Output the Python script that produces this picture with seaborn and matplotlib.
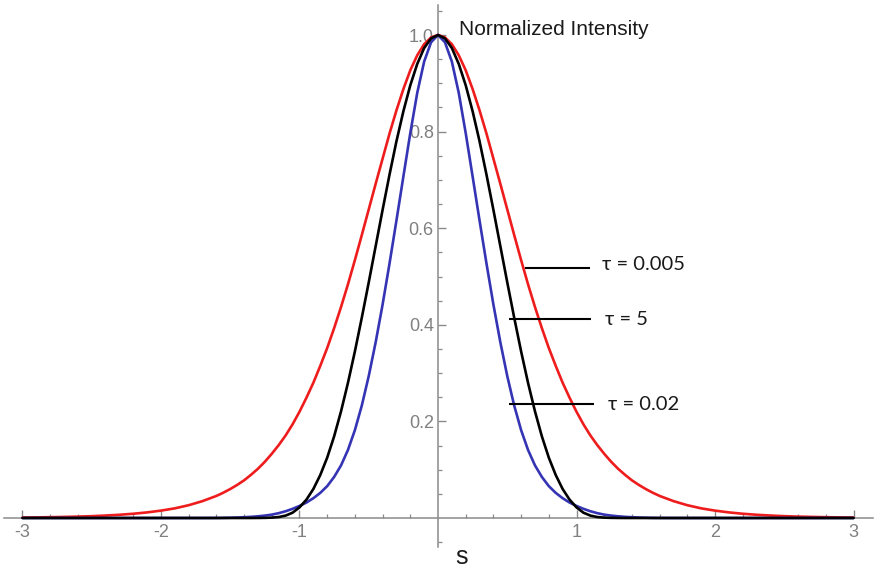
import matplotlib
matplotlib.use("Agg")
import matplotlib.pyplot as plt
import seaborn as sns
import pandas as pd
from matplotlib.ticker import FixedLocator

# ---- data (right half; curves are symmetric about s = 0) ----
s_half = [0.00, 0.05, 0.10, 0.15, 0.20, 0.25, 0.30, 0.35, 0.40, 0.45, 0.50, 0.55,
          0.60, 0.65, 0.70, 0.75, 0.80, 0.85, 0.90, 0.95, 1.00, 1.05, 1.10, 1.15, 1.20,
          1.25, 1.30, 1.35, 1.40, 1.45, 1.50, 1.55, 1.60,
          1.7, 1.8, 1.9, 2.0, 2.1, 2.2, 2.3, 2.4, 2.5, 2.6, 2.7, 2.8, 2.9, 3.0]

red_half = [1.000, 0.995, 0.981, 0.958, 0.927, 0.888, 0.844, 0.796, 0.744, 0.692, 0.639,
            0.586, 0.534, 0.484, 0.437, 0.393, 0.352, 0.315, 0.280, 0.249, 0.220, 0.194,
            0.171, 0.151, 0.133,
            0.1165, 0.102, 0.0895, 0.078, 0.0685, 0.060, 0.0524, 0.0457,
            0.035, 0.0265, 0.020, 0.0153, 0.0116, 0.0088, 0.0067, 0.0051, 0.0038, 0.0029,
            0.0022, 0.0017, 0.0013, 0.0010]

black_half = [1.000, 0.993, 0.973, 0.940, 0.896, 0.842, 0.780, 0.711, 0.638, 0.563, 0.488,
              0.415, 0.345, 0.280, 0.221, 0.169, 0.125, 0.089, 0.060, 0.038, 0.022, 0.011,
              0.005, 0.002, 0.0008,
              0.0003, 0.0001, 0.0, 0.0, 0.0, 0.0, 0.0, 0.0,
              0.0, 0.0, 0.0, 0.0, 0.0, 0.0, 0.0, 0.0, 0.0, 0.0, 0.0, 0.0, 0.0, 0.0]

blue_half = [1.000, 0.985, 0.945, 0.880, 0.797, 0.707, 0.616, 0.527, 0.442, 0.364, 0.294,
             0.233, 0.182, 0.141, 0.109, 0.085, 0.066, 0.052, 0.041, 0.032, 0.025, 0.019,
             0.014, 0.010, 0.007,
             0.005, 0.0035, 0.0024, 0.0016, 0.0010, 0.0006, 0.0003, 0.0001,
             0.0, 0.0, 0.0, 0.0, 0.0, 0.0, 0.0, 0.0, 0.0, 0.0, 0.0, 0.0, 0.0, 0.0]

series_names = ["τ = 0.005", "τ = 0.02", "τ = 5"]
series_colors = ["#ee1c1c", "#3434b4", "#000000"]

x_major = [-3, -2, -1, 1, 2, 3]
x_major_labels = ["-3", "-2", "-1", "1", "2", "3"]
y_major = [0.2, 0.4, 0.6, 0.8, 1.0]
y_major_labels = ["0.2", "0.4", "0.6", "0.8", "1.0"]

x_label = "s"
y_label = "Normalized Intensity"


def full(half):
    return list(reversed(half[1:])) + list(half)


s_full = [-v for v in reversed(s_half[1:])] + list(s_half)
rows = []
for name, half in zip(series_names, [red_half, blue_half, black_half]):
    for sv, iv in zip(s_full, full(half)):
        rows.append({"s": sv, "I": iv, "tau": name})
df = pd.DataFrame(rows)

sns.set_theme(style="white")
plt.rcParams["font.family"] = ["Liberation Sans", "DejaVu Sans"]
plt.rcParams["axes.unicode_minus"] = False

fig = plt.figure(figsize=(8.74, 5.68), dpi=100)
ax = fig.add_axes([0, 0, 1, 1])

sns.lineplot(data=df, x="s", y="I", hue="tau", hue_order=series_names,
             palette=dict(zip(series_names, series_colors)), linewidth=1.9,
             estimator=None, sort=True, legend=False, ax=ax)

ax.set_xlim(-438 / 138.5, 436 / 138.5)
ax.set_ylim(-50 / 483, 518 / 483)

axis_col = "#8a8a8a"
for side in ["top", "right"]:
    ax.spines[side].set_visible(False)
ax.spines["left"].set_position(("data", 0))
ax.spines["bottom"].set_position(("data", 0))
ax.spines["left"].set_bounds(-0.06, 1.063)
ax.spines["bottom"].set_bounds(-3.13, 3.14)
for side in ["left", "bottom"]:
    ax.spines[side].set_color(axis_col)
    ax.spines[side].set_linewidth(1.1)
    ax.spines[side].set_zorder(0.5)

ax.set_xticks(x_major)
ax.set_xticklabels(x_major_labels)
ax.set_yticks(y_major)
ax.set_yticklabels(y_major_labels)
x_minor = [round(-3 + 0.2 * i, 2) for i in range(31)]
x_minor = [v for v in x_minor if abs(v - round(v)) > 1e-6]
y_minor = [round(-0.05 + 0.05 * i, 2) for i in range(23)]
y_minor = [v for v in y_minor if abs(v) > 1e-6 and all(abs(v - m) > 1e-6 for m in y_major)]
ax.xaxis.set_minor_locator(FixedLocator(x_minor))
ax.yaxis.set_minor_locator(FixedLocator(y_minor))

ax.tick_params(axis="both", which="both", bottom=True, left=True, top=False, right=False)
ax.tick_params(axis="both", which="major", direction="in", length=5.5, width=1.0,
               color=axis_col, labelcolor="#808080", labelsize=13)
ax.tick_params(axis="both", which="minor", direction="in", length=3, width=0.9,
               color=axis_col)
ax.tick_params(axis="x", which="major", pad=4)
ax.tick_params(axis="y", which="major", pad=3)
ax.set_xlabel("")
ax.set_ylabel("")
ax.grid(False)

# axis captions
ax.text(0.152, 1.012, y_label, fontsize=15, color="#1a1a1a", ha="left", va="center")
ax.text(0.171, -0.080, x_label, fontsize=18, color="#1a1a1a", ha="center", va="center")

# series labels with leader lines
label_pos = {
    "τ = 0.005": ((0.628, 1.098, 0.517), (1.182, 0.524)),
    "τ = 5": ((0.514, 1.105, 0.412), (1.206, 0.412)),
    "τ = 0.02": ((0.514, 1.127, 0.236), (1.230, 0.234)),
}
for name, ((x0, x1, yl), (tx, ty)) in label_pos.items():
    ax.plot([x0, x1], [yl, yl], color="black", linewidth=1.5, solid_capstyle="butt")
    ax.text(tx, ty, name, fontsize=14.5, color="#1a1a1a", ha="left", va="center",
            family=["Lato", "DejaVu Sans"])

fig.savefig("out.png", dpi=100)
